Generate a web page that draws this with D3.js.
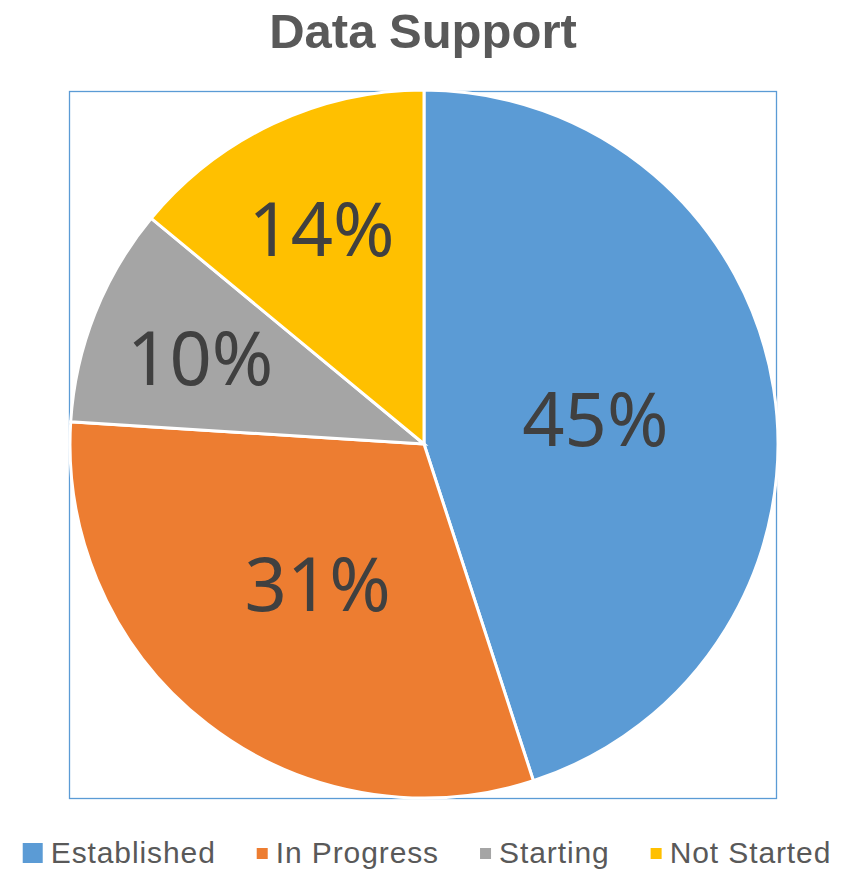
<!DOCTYPE html>
<html><head><meta charset="utf-8">
<script src="https://cdn.jsdelivr.net/npm/d3@7"></script>
<style>body{margin:0;background:#fff}</style>
</head><body>
<svg id="chart" width="843" height="869"></svg>
<script>
const title = "Data Support";
const categories = ["Established", "In Progress", "Starting", "Not Started"];
const values = [45, 31, 10, 14];
const colors = ["#5B9BD5", "#ED7D31", "#A5A5A5", "#FFC000"];

const svg = d3.select("#chart");

svg.append("text").attr("x", 423).attr("y", 48).attr("text-anchor", "middle")
  .attr("font-family", "Liberation Sans, Arial, sans-serif").attr("font-weight", "bold")
  .attr("font-size", 49).attr("fill", "#595959").text(title);

// plot area box
svg.append("rect").attr("x", 69.5).attr("y", 91.5).attr("width", 707).attr("height", 707)
  .attr("fill", "none").attr("stroke", "#5B9BD5").attr("stroke-width", 1.3);

const cx = 424, cy = 444, r = 354;
const data = categories.map((c, i) => ({cat: c, value: values[i], color: colors[i]}));
const pie = d3.pie().value(d => d.value).sort(null);
const arcs = pie(data);
const arc = d3.arc().innerRadius(0).outerRadius(r);
const g = svg.append("g").attr("transform", `translate(${cx},${cy})`);
g.selectAll("path").data(arcs).join("path")
  .attr("d", arc).attr("fill", d => d.data.color)
  .attr("stroke", "#fff").attr("stroke-width", 3).attr("stroke-linejoin", "miter");

const total = d3.sum(values);
g.selectAll("text.lbl").data(arcs).join("text").attr("class", "lbl")
  .each(function(d) {
    const frac = d.data.value / total;
    const lr = frac < 0.2 ? r * 0.68 : r * 0.49;
    const a = (d.startAngle + d.endAngle) / 2;
    d3.select(this).attr("x", lr * Math.sin(a)).attr("y", -lr * Math.cos(a));
  })
  .attr("text-anchor", "middle").attr("dy", "0.4em")
  .attr("font-family", "Noto Sans, Open Sans, sans-serif")
  .attr("font-size", 74).attr("fill", "#404040")
  .text(d => Math.round(d.data.value / total * 100) + "%");

// legend
const lg = svg.append("g");
const items = lg.selectAll("g").data(data).join("g");
items.append("text").attr("class", "lt")
  .attr("font-family", "Liberation Sans, Arial, sans-serif").attr("font-size", 30)
  .attr("letter-spacing", 0.9)
  .attr("fill", "#595959").attr("y", 863).text(d => d.cat);
let x = 0; const positions = [];
items.each(function(d, i) {
  const tw = d3.select(this).select("text").node().getComputedTextLength();
  const ms = i === 0 ? 20 : 11;
  positions.push({mx: x, ms: ms, tx: x + ms + 8, tw: tw});
  x += ms + 8 + tw + 41;
});
const totalW = x - 41;
const x0 = 427 - totalW / 2;
items.each(function(d, i) {
  const p = positions[i];
  const sel = d3.select(this);
  sel.select("text").attr("x", x0 + p.tx);
  const my = i === 0 ? 843 : 848;
  sel.insert("rect", "text").attr("x", x0 + p.mx).attr("y", my)
    .attr("width", p.ms).attr("height", p.ms).attr("fill", d.color);
});
</script>
</body></html>
